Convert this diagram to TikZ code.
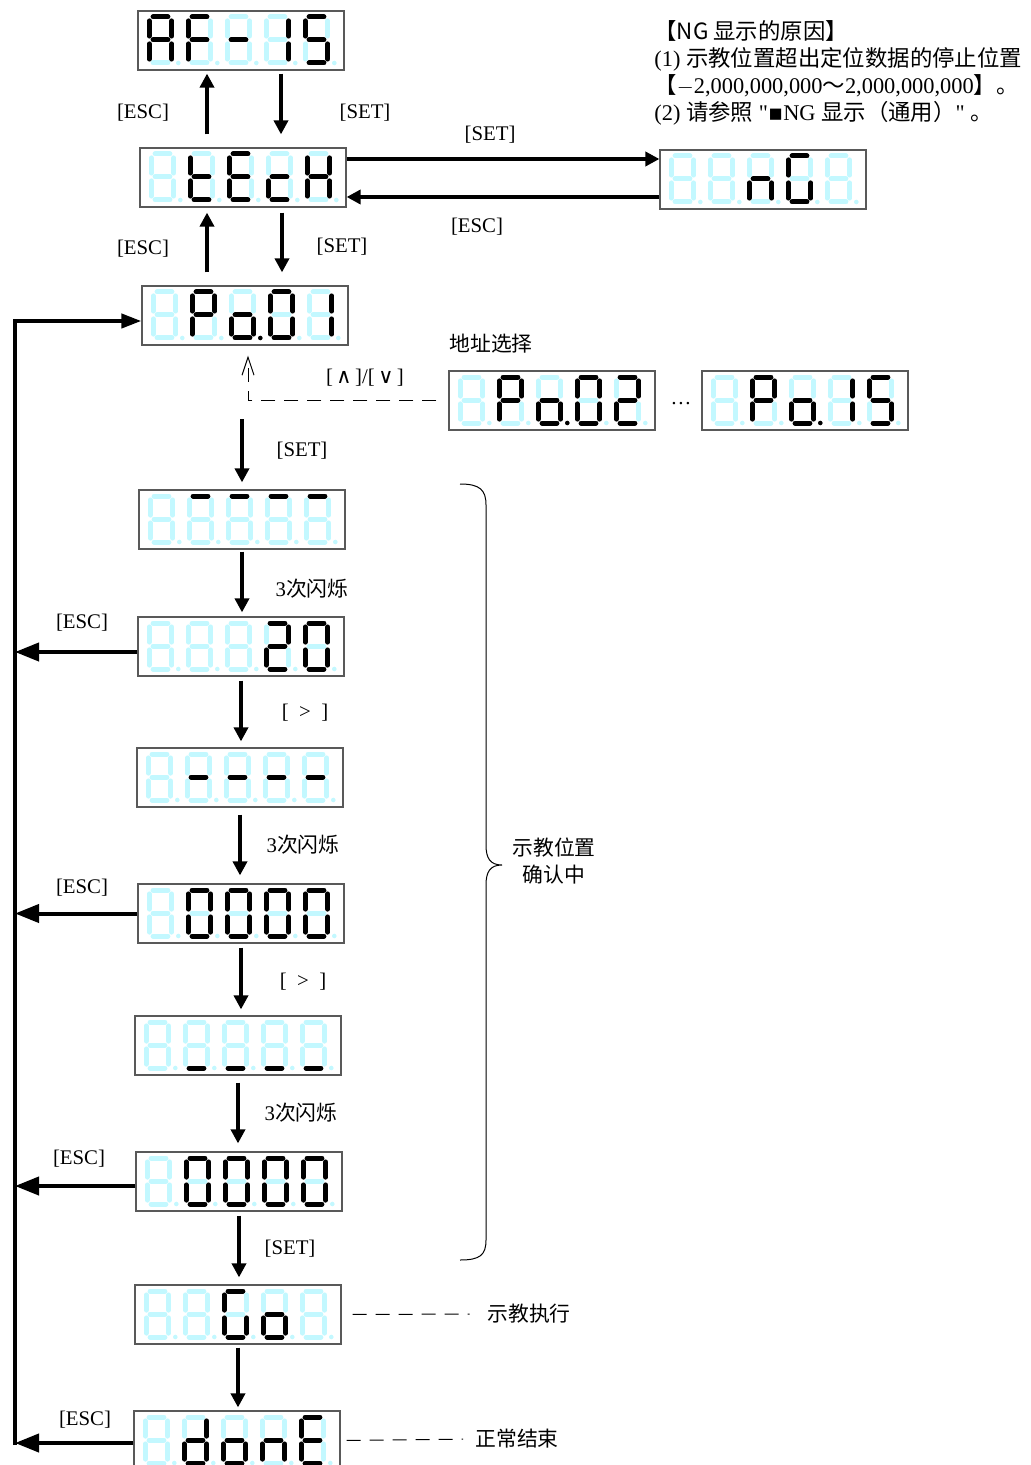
\documentclass[tikz,border=0pt]{standalone}
\usepackage{fontspec}
\setmainfont{Liberation Serif}
\newfontfamily\cjk{Noto Sans CJK SC}
\newfontfamily\sym{DejaVu Sans}
\newfontfamily\plainserif{Liberation Serif}
\usepackage{tikz}
\usetikzlibrary{arrows.meta,calc}
\definecolor{segoff}{RGB}{195,248,255}
\makeatletter
% one digit: #1,#2 top of the left bar, #3 lit segments (a..g, p = dot)
\newcommand{\segdigit}[3]{%
  \begin{scope}[shift={(#1,#2)}]
    \foreach \s/\xa/\ya/\xb/\yb in {a/3.8/0/18.6/0,b/22.4/3.9/22.4/19.1,c/22.4/26.9/22.4/42.1,%
        d/3.8/46/18.6/46,e/0/26.9/0/42.1,f/0/3.9/0/19.1,g/3.8/23/18.6/23}{
      \edef\tmp{\noexpand\in@{\s}{#3}}\tmp
      \ifin@\def\segcol{black}\else\def\segcol{segoff}\fi
      \draw[seg,color=\segcol] (\xa,\ya) -- (\xb,\yb);
    }
    \edef\tmp{\noexpand\in@{p}{#3}}\tmp
    \ifin@\def\segcol{black}\else\def\segcol{segoff}\fi
    \fill[color=\segcol] (29,46) circle[radius=1.15pt];
  \end{scope}}
\makeatother
% display of five digits: #1 name, #2,#3 top left corner, #4 digits
\newcommand{\display}[4]{%
  \node[dispbox] (#1) at ({#2+103},{#3+29.5}) {};
  \foreach \dg [count=\i from 0] in {#4}{\segdigit{#2+11.3+39*\i}{#3+6}{\dg}}}

\begin{document}
\begin{tikzpicture}[x=0.5pt,y=-0.5pt,
    dispbox/.style={draw=black!65,line width=0.6pt,minimum width=103pt,minimum height=29.5pt,inner sep=0pt},
    seg/.style={line width=2.5pt,line cap=round},
    arr/.style={line width=2pt,-{Triangle[length=7pt,width=7pt]}},
    escarr/.style={line width=2pt,-{Triangle[length=12pt,width=9pt]}},
    dashline/.style={line width=0.5pt,dash pattern=on 7pt off 4.5pt},
    lbl/.style={font=\fontsize{10.4}{12}\selectfont,inner sep=1pt},
    clbl/.style={font=\fontsize{10.4}{13.5}\selectfont\cjk,inner sep=1pt}]
  \useasboundingbox (0,0) rectangle (1031,1465);

  % displays
  \display{af}{138}{11}{abcefg,aefg,g,bc,acdfg}
  \display{tech}{140}{148}{z,defg,adefg,deg,bcefg}
  \display{ng}{660}{150}{z,z,ceg,acdef,z}
  \display{pa1}{142}{286}{z,abefg,cdegp,abcdef,bc}
  \display{pa2}{449}{371}{z,abefg,cdegp,abcdef,abdeg}
  \display{pa15}{702}{371}{z,abefg,cdegp,bc,acdfg}
  \display{sa}{139}{490}{z,a,a,a,a}
  \display{sb}{138}{617}{z,z,z,abdeg,abcdef}
  \display{sc}{137}{748}{z,g,g,g,g}
  \display{sd}{138}{884}{z,abcdef,abcdef,abcdef,abcdef}
  \display{se}{135}{1016}{z,d,d,d,d}
  \display{sf}{136}{1152}{z,abcdef,abcdef,abcdef,abcdef}
  \display{go}{135}{1285}{z,z,acdef,cdeg,z}
  \display{done}{134}{1411}{z,bcdeg,cdeg,ceg,adefg}

  % top levels
  \draw[arr,shorten <=6.5pt,shorten >=1.5pt] ([xshift=-18pt]tech.north) -- ([xshift=-18pt]tech.north |- af.south);
  \draw[arr,shorten <=1.5pt,shorten >=6.5pt] ([xshift=20pt]af.south) -- ([xshift=20pt]af.south |- tech.north);
  \draw[arr,shorten <=6.5pt,shorten >=2.5pt] ([xshift=-18pt]tech.south |- pa1.north) -- ([xshift=-18pt]tech.south);
  \draw[arr,shorten <=2.5pt,shorten >=6.5pt] ([xshift=19.5pt]tech.south) -- ([xshift=19.5pt]tech.south |- pa1.north);
  \draw[arr] ([yshift=9.25pt]tech.east) -- ([yshift=9.25pt]tech.east -| ng.west);
  \draw[arr] ([yshift=-9.75pt]tech.east -| ng.west) -- ([yshift=-9.75pt]tech.east);
  \node[lbl] (esc1) at (143,113) {[ESC]};
  \node[lbl] (set1) at (365,113) {[SET]};
  \node[lbl] (set2) at (490,135) {[SET]};
  \node[lbl] (esc2) at (477,227) {[ESC]};
  \node[lbl] (esc3) at (143,249) {[ESC]};
  \node[lbl] (set3) at (342,247) {[SET]};

  % note on NG
  \node[anchor=north west,align=left,inner sep=0pt,font=\fontsize{11.2}{13.5}\selectfont] (ngnote) at (654,20)
    {{\cjk 【NG 显示的原因】}\\
     (1) {\cjk 示教位置超出定位数据的停止位置}\\
     {\cjk 【}$-$2,000,000,000{\cjk ～}2,000,000,000{\cjk 】。}\\
     (2) {\cjk 请参照} {\plainserif "}{\sym ▪}NG {\cjk 显示（通用）}{\plainserif "} {\cjk 。}};

  % address select
  \draw[dashline,-{Straight Barb[length=9pt,width=6pt]},shorten <=6pt,shorten >=5pt] (pa2.west) -| ([xshift=1.5pt]pa1.south);
  \node[lbl] (updn) at (365,378) {[\,{\sym ∧}\,]/[\,{\sym ∨}\,]};
  \node[clbl] (addr) at (491,344) {地址选择};
  \node[lbl] (dots) at (681,404) {\ldots};

  % teaching steps
  \draw[arr,shorten >=3.5pt] ([yshift=35pt]sa.north) -- (sa.north);
  \draw[arr,shorten <=1pt,shorten >=2pt] (sa.south) -- (sa.south |- sb.north);
  \draw[arr,shorten <=2pt,shorten >=3pt] (sb.south) -- (sb.south |- sc.north);
  \draw[arr,shorten <=3.5pt,shorten >=4pt] (sc.south) -- (sc.south |- sd.north);
  \draw[arr,shorten <=2pt,shorten >=3pt] (sd.south) -- (sd.south |- se.north);
  \draw[arr,shorten <=3.5pt,shorten >=4pt] (se.south) -- (se.south |- sf.north);
  \draw[arr,shorten <=2pt,shorten >=3.5pt] (sf.south) -- (sf.south |- go.north);
  \draw[arr,shorten <=1.5pt,shorten >=1.5pt] (go.south) -- (go.south |- done.north);
  \node[lbl] (set4) at (302,451) {[SET]};
  \node[lbl] (blink1) at (312,589) {3{\cjk 次闪烁}};
  \node[lbl] (right1) at (305,713) {[\enspace>\enspace]};
  \node[lbl] (blink2) at (303,845) {3{\cjk 次闪烁}};
  \node[lbl] (right2) at (303,982) {[\enspace>\enspace]};
  \node[lbl] (blink3) at (301,1113) {3{\cjk 次闪烁}};
  \node[lbl] (set5) at (290,1249) {[SET]};

  % return line
  \coordinate (bustop) at (15,321);
  \coordinate (busbot) at (15,1445);
  \draw[line width=2pt,-{Triangle[length=10pt,width=7pt]}] (busbot) -- (bustop) -- (bustop -| pa1.west);
  \draw[escarr] ([yshift=-2.75pt]sb.west) -- ([yshift=-2.75pt]sb.west -| bustop);
  \draw[escarr] (sd.west) -- (sd.west -| bustop);
  \draw[escarr] ([yshift=-2.25pt]sf.west) -- ([yshift=-2.25pt]sf.west -| bustop);
  \draw[escarr] ([yshift=-1.25pt]done.west) -- ([yshift=-1.25pt]done.west -| bustop);
  \node[lbl] (esc4) at (82,623) {[ESC]};
  \node[lbl] (esc5) at (82,888) {[ESC]};
  \node[lbl] (esc6) at (79,1159) {[ESC]};
  \node[lbl] (esc7) at (85,1420) {[ESC]};

  % brace and notes
  \draw[line width=0.5pt] (460,484) .. controls (480,484) and (486,490) .. (486,505) -- (486,845)
    .. controls (486,858) and (490,865) .. (502,865) .. controls (490,865) and (486,872) .. (486,885)
    -- (486,1240) .. controls (486,1255) and (480,1260) .. (460,1260);
  \node[clbl,align=center] (check) at (554,861) {示教位置\\确认中};
  \node[clbl] (exec) at (529,1314) {示教执行};
  \draw[dashline,shorten <=5.5pt,shorten >=7.75pt] (go.east) -- (exec.west);
  \node[clbl] (fin) at (517,1439) {正常结束};
  \draw[dashline,shorten <=3pt,shorten >=5pt] (done.east) -- (fin.west);
\end{tikzpicture}
\end{document}
